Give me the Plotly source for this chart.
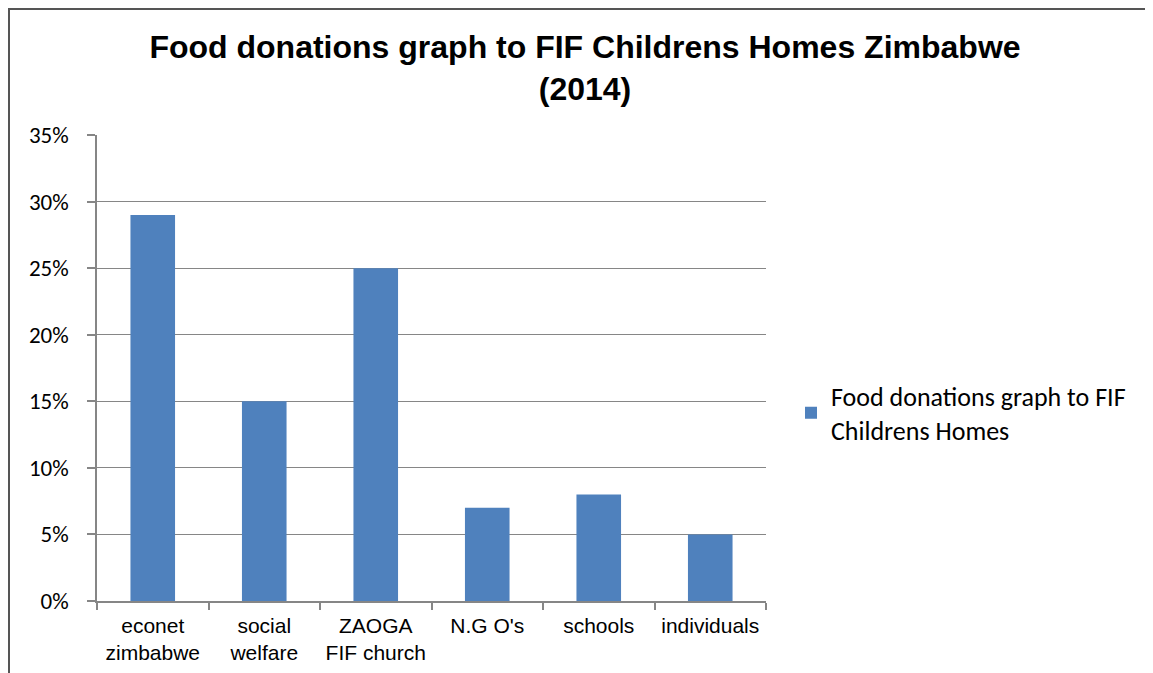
import plotly.graph_objects as go

categories = ["econet<br>zimbabwe", "social<br>welfare", "ZAOGA<br>FIF church", "N.G O's", "schools", "individuals"]
values = [0.29, 0.15, 0.25, 0.07, 0.08, 0.05]
series_name = "Food donations graph to FIF<br>Childrens Homes"
title_text = "<b>Food donations graph to FIF Childrens Homes Zimbabwe<br>(2014)</b>"

OFF = 8  # page body margin
W, H = 1139, 665
# plot area in page pixels
PL, PR, PT, PB = 97, 766, 135, 601
L, R, T, B = PL - OFF, PR - OFF, PT - OFF, PB - OFF

fig = go.Figure()
fig.add_trace(go.Bar(x=categories, y=values, name=series_name,
                     marker=dict(color="#4F81BD", line=dict(width=0)),
                     showlegend=True))

pw, ph = R - L, B - T
def px(x): return (x - PL) / pw   # page x -> paper x
def py(y): return (PB - y) / ph   # page y -> paper y

fig.update_layout(
    width=W, height=H,
    margin=dict(l=L, r=W - R, t=T, b=H - B, autoexpand=False),
    paper_bgcolor="white", plot_bgcolor="white",
    bargap=0.6,
    title=dict(text=title_text, x=(585 - OFF) / W, xanchor="center",
               y=1 - (58 - OFF) / H, yanchor="middle",
               font=dict(family="Liberation Sans, Arial", size=32, color="black")),
    font=dict(family="Liberation Sans, Arial", size=21, color="black"),
    xaxis=dict(showline=True, linecolor="#868686", linewidth=1.5, ticks="outside", tickson="boundaries",
               ticklen=7, tickcolor="#868686", tickwidth=1.5, showgrid=False,
               tickfont=dict(family="Liberation Sans, Arial", size=21), fixedrange=True,
               ticklabelstandoff=5),
    yaxis=dict(range=[0, 0.35], dtick=0.05, tickformat=".0%", showline=True, linecolor="#868686",
               linewidth=1.5, ticks="outside", ticklen=8, tickcolor="#868686", tickwidth=1.5,
               showgrid=True, gridcolor="#868686", gridwidth=1, zeroline=False,
               tickfont=dict(family="Carlito, Calibri, Lato, sans-serif", size=23),
               ticklabelstandoff=14),
    legend=dict(x=px(791), xanchor="left", y=py(413), yanchor="middle",
                font=dict(family="Carlito, Calibri, Lato, sans-serif", size=26, color="black"),
                bgcolor="rgba(0,0,0,0)", itemwidth=30, tracegroupgap=0),
    shapes=[dict(type="rect", xref="paper", yref="paper",
                 x0=px(9), x1=px(1146), y0=py(700), y1=py(9),
                 line=dict(color="#555555", width=2), fillcolor="rgba(0,0,0,0)", layer="below")],
)

fig.write_html("out.html")
